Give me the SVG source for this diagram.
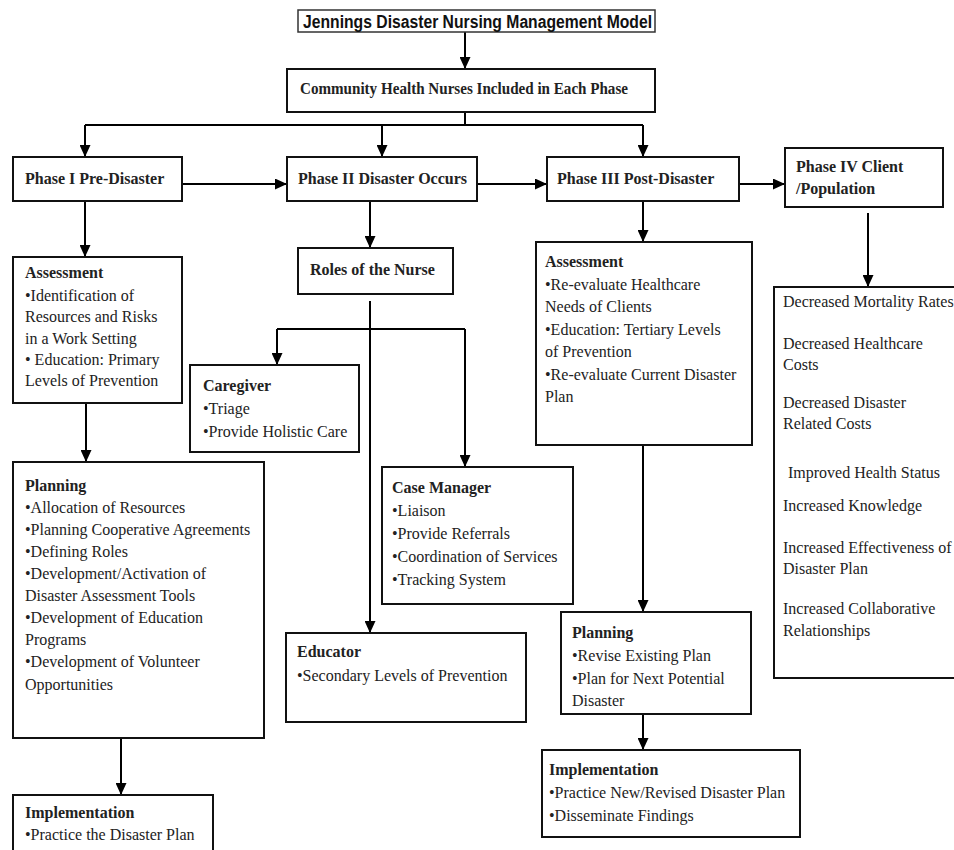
<svg xmlns="http://www.w3.org/2000/svg" width="954" height="850" viewBox="0 0 954 850">
<defs>
<marker id="ah" markerUnits="userSpaceOnUse" markerWidth="12" markerHeight="11" refX="11" refY="5.5" orient="auto">
<path d="M0,0 L12,5.5 L0,11 z" fill="#000"/>
</marker>
<style>
.box{fill:#fff;stroke:#111;stroke-width:2}
.t{font-family:"Liberation Serif","Times New Roman",serif;font-size:16px;fill:#222}
.b{font-family:"Liberation Serif","Times New Roman",serif;font-size:16px;font-weight:bold;fill:#222}
.ttl{font-family:"Liberation Sans",Arial,sans-serif;font-size:18px;font-weight:bold;fill:#111}
.c{fill:none;stroke:#000;stroke-width:2}
.ca{fill:none;stroke:#000;stroke-width:2;marker-end:url(#ah)}
</style>
</defs>
<rect width="954" height="850" fill="#fff"/>

<g id="connectors">
<path class="ca" d="M465,32 V68"/>
<path class="c" d="M465,112 V125 M85,125 H643"/>
<path class="ca" d="M85,125 V156"/>
<path class="ca" d="M382,125 V156"/>
<path class="ca" d="M643,125 V156"/>
<path class="ca" d="M182,184 H286"/>
<path class="ca" d="M477,184 H546"/>
<path class="ca" d="M739,184 H784"/>
<path class="ca" d="M85,201 V256"/>
<path class="ca" d="M86,403 V461"/>
<path class="ca" d="M121,738 V794"/>
<path class="ca" d="M370,201 V247"/>
<path class="ca" d="M370,301 V632"/>
<path class="c" d="M277,329 H465"/>
<path class="ca" d="M277,329 V364"/>
<path class="ca" d="M465,329 V466"/>
<path class="ca" d="M643,201 V241"/>
<path class="ca" d="M643,445 V611"/>
<path class="ca" d="M643,714 V749"/>
<path class="ca" d="M868,213 V286"/>
</g>

<g id="title">
<rect x="298" y="10" width="357" height="22" fill="#fff" stroke="#333" stroke-width="1.5"/>
<text class="ttl" x="303" y="28" textLength="349" lengthAdjust="spacingAndGlyphs">Jennings Disaster Nursing Management Model</text>
</g>

<g id="chn">
<rect class="box" x="287" y="69" width="368" height="43"/>
<text class="b" x="300" y="94" textLength="328" lengthAdjust="spacingAndGlyphs">Community Health Nurses Included in Each Phase</text>
</g>

<g id="phase1">
<rect class="box" x="13" y="157" width="169" height="44"/>
<text class="b" x="25" y="184">Phase I Pre-Disaster</text>
</g>

<g id="phase2">
<rect class="box" x="287" y="157" width="190" height="44"/>
<text class="b" x="298" y="184">Phase II Disaster Occurs</text>
</g>

<g id="phase3">
<rect class="box" x="547" y="157" width="192" height="44"/>
<text class="b" x="557" y="184">Phase III Post-Disaster</text>
</g>

<g id="phase4">
<rect class="box" x="785" y="148" width="158" height="59"/>
<text class="b" x="796" y="172">Phase IV Client</text>
<text class="b" x="796" y="194">/Population</text>
</g>

<g id="assessment1">
<rect class="box" x="13" y="257" width="169" height="146"/>
<text class="b" x="25" y="278">Assessment</text>
<text class="t" x="25" y="301">•Identification of</text>
<text class="t" x="25" y="322">Resources and Risks</text>
<text class="t" x="25" y="344">in a Work Setting</text>
<text class="t" x="25" y="365">• Education: Primary</text>
<text class="t" x="25" y="386">Levels of Prevention</text>
</g>

<g id="planning1">
<rect class="box" x="13" y="462" width="251" height="276"/>
<text class="b" x="25" y="491">Planning</text>
<text class="t" x="25" y="513">•Allocation of Resources</text>
<text class="t" x="25" y="535">•Planning Cooperative Agreements</text>
<text class="t" x="25" y="557">•Defining Roles</text>
<text class="t" x="25" y="579">•Development/Activation of</text>
<text class="t" x="25" y="601">Disaster Assessment Tools</text>
<text class="t" x="25" y="623">•Development of Education</text>
<text class="t" x="25" y="645">Programs</text>
<text class="t" x="25" y="667">•Development of Volunteer</text>
<text class="t" x="25" y="690">Opportunities</text>
</g>

<g id="implementation1">
<rect class="box" x="13" y="795" width="200" height="70"/>
<text class="b" x="25" y="818">Implementation</text>
<text class="t" x="25" y="840">•Practice the Disaster Plan</text>
</g>

<g id="roles">
<rect class="box" x="298" y="248" width="155" height="46"/>
<text class="b" x="310" y="275">Roles of the Nurse</text>
</g>

<g id="caregiver">
<rect class="box" x="190" y="365" width="169" height="87"/>
<text class="b" x="203" y="391">Caregiver</text>
<text class="t" x="203" y="414">•Triage</text>
<text class="t" x="203" y="437">•Provide Holistic Care</text>
</g>

<g id="casemanager">
<rect class="box" x="382" y="467" width="191" height="137"/>
<text class="b" x="392" y="493">Case Manager</text>
<text class="t" x="392" y="516">•Liaison</text>
<text class="t" x="392" y="539">•Provide Referrals</text>
<text class="t" x="392" y="562">•Coordination of Services</text>
<text class="t" x="392" y="585">•Tracking System</text>
</g>

<g id="educator">
<rect class="box" x="286" y="633" width="240" height="89"/>
<text class="b" x="297" y="657">Educator</text>
<text class="t" x="297" y="681">•Secondary Levels of Prevention</text>
</g>

<g id="assessment3">
<rect class="box" x="536" y="242" width="216" height="203"/>
<text class="b" x="545" y="267">Assessment</text>
<text class="t" x="545" y="290">•Re-evaluate Healthcare</text>
<text class="t" x="545" y="312">Needs of Clients</text>
<text class="t" x="545" y="335">•Education: Tertiary Levels</text>
<text class="t" x="545" y="357">of Prevention</text>
<text class="t" x="545" y="380">•Re-evaluate Current Disaster</text>
<text class="t" x="545" y="402">Plan</text>
</g>

<g id="planning3">
<rect class="box" x="561" y="612" width="190" height="102"/>
<text class="b" x="572" y="638">Planning</text>
<text class="t" x="572" y="661">•Revise Existing Plan</text>
<text class="t" x="572" y="684">•Plan for Next Potential</text>
<text class="t" x="572" y="706">Disaster</text>
</g>

<g id="implementation3">
<rect class="box" x="542" y="750" width="258" height="87"/>
<text class="b" x="549" y="775">Implementation</text>
<text class="t" x="549" y="798">•Practice New/Revised Disaster Plan</text>
<text class="t" x="549" y="821">•Disseminate Findings</text>
</g>

<g id="outcomes">
<rect class="box" x="774" y="287" width="200" height="391"/>
<text class="t" x="783" y="307">Decreased Mortality Rates</text>
<text class="t" x="783" y="349">Decreased Healthcare</text>
<text class="t" x="783" y="370">Costs</text>
<text class="t" x="783" y="408">Decreased Disaster</text>
<text class="t" x="783" y="429">Related Costs</text>
<text class="t" x="788" y="478">Improved Health Status</text>
<text class="t" x="783" y="511">Increased Knowledge</text>
<text class="t" x="783" y="553">Increased Effectiveness of</text>
<text class="t" x="783" y="574">Disaster Plan</text>
<text class="t" x="783" y="614">Increased Collaborative</text>
<text class="t" x="783" y="636">Relationships</text>
</g>
</svg>
